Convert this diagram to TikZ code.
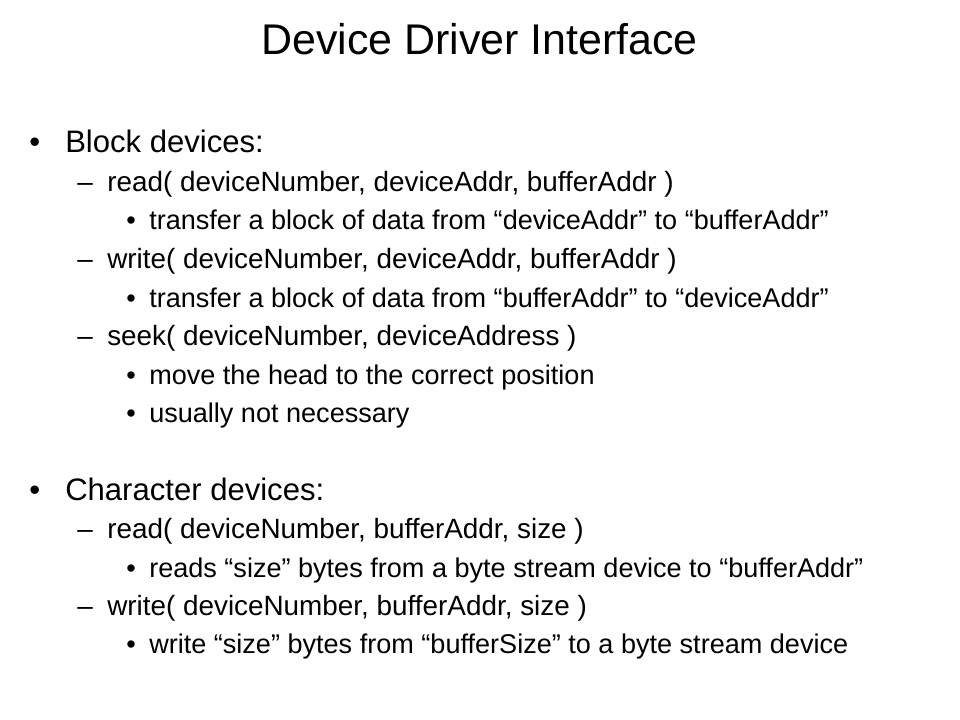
\documentclass[tikz,border=0pt]{standalone}
\usepackage{fontspec}
\setmainfont{Liberation Sans}
\begin{document}
\begin{tikzpicture}[x=0.75pt,y=-0.75pt,
	every node/.style={inner sep=0pt,anchor=base west},
	title/.style={font=\fontsize{32.2}{36}\selectfont,anchor=base},
	lvlone/.style={font=\fontsize{23.3}{26}\selectfont},
	lvltwo/.style={font=\fontsize{20.9}{24}\selectfont},
	lvlthree/.style={font=\fontsize{20.3}{24}\selectfont}]
	\useasboundingbox (0,0) rectangle (960,720);
	\node [title] (t) at (479.5,55) {Device Driver Interface};
	% block devices
	\node [lvlone] (b0) at (29,153) {\textbullet};
	\node [lvlone] (b) at (65,153) {Block devices:};
	\node [lvltwo] (br0) at (77,192) {–};
	\node [lvltwo] (br) at (107,192) {read( deviceNumber, deviceAddr, bufferAddr )};
	\node [lvlthree] (brt0) at (126,230) {\textbullet};
	\node [lvlthree] (brt) at (149,230) {transfer a block of data from “deviceAddr” to “bufferAddr”};
	\node [lvltwo] (bw0) at (77,269) {–};
	\node [lvltwo] (bw) at (107,269) {write( deviceNumber, deviceAddr, bufferAddr )};
	\node [lvlthree] (bwt0) at (126,307) {\textbullet};
	\node [lvlthree] (bwt) at (149,307) {transfer a block of data from “bufferAddr” to “deviceAddr”};
	\node [lvltwo] (bs0) at (77,345) {–};
	\node [lvltwo] (bs) at (107,345) {seek( deviceNumber, deviceAddress )};
	\node [lvlthree] (bsm0) at (126,384) {\textbullet};
	\node [lvlthree] (bsm) at (149,384) {move the head to the correct position};
	\node [lvlthree] (bsu0) at (126,422) {\textbullet};
	\node [lvlthree] (bsu) at (149,422) {usually not necessary};
	% character devices
	\node [lvlone] (c0) at (29,500) {\textbullet};
	\node [lvlone] (c) at (65,500) {Character devices:};
	\node [lvltwo] (cr0) at (77,538) {–};
	\node [lvltwo] (cr) at (107,538) {read( deviceNumber, bufferAddr, size )};
	\node [lvlthree] (crt0) at (126,577) {\textbullet};
	\node [lvlthree] (crt) at (149,577) {reads “size” bytes from a byte stream device to “bufferAddr”};
	\node [lvltwo] (cw0) at (77,615) {–};
	\node [lvltwo] (cw) at (107,615) {write( deviceNumber, bufferAddr, size )};
	\node [lvlthree] (cwt0) at (126,653) {\textbullet};
	\node [lvlthree] (cwt) at (149,653) {write “size” bytes from “bufferSize” to a byte stream device};
\end{tikzpicture}
\end{document}
